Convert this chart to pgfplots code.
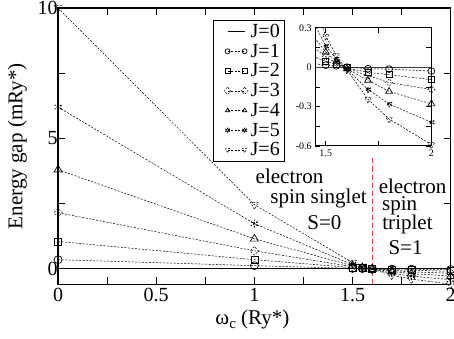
\documentclass[border=0pt]{standalone}
\usepackage{fontspec}
\setmainfont{Liberation Serif}
\usepackage{pgfplots}
\usepackage{pgfplotstable}
\pgfplotsset{compat=1.18}
\pgfplotstableread{
x J1 J2 J3 J4 J5 J6
0 0.35 1.05 2.15 3.8 6.2 10
1 0.12 0.35 0.69 1.15 1.73 2.46
1.5 0.015 0.045 0.08 0.115 0.16 0.235
1.55 0.01 0.02 0.03 0.044 0.063 0.089
1.6 0.0 -0.005 -0.01 -0.013 -0.017 -0.022
1.7 -0.012 -0.04 -0.065 -0.1 -0.17 -0.245
1.8 -0.015 -0.058 -0.118 -0.185 -0.28 -0.395
2 -0.03 -0.095 -0.17 -0.28 -0.42 -0.59
}\gaps
\definecolor{vred}{rgb}{0.95,0.25,0.3}
\pgfplotsset{
  jline/.style={black, line width=0.5pt, dash pattern=on 2pt off 1.5pt,
    mark options={solid, fill=white, line width=0.7pt}},
  sJ1/.style={jline, mark=o, mark size=#1*4pt},
  sJ2/.style={jline, mark=square, mark size=#1*3.5pt},
  sJ3/.style={jline, mark=square, mark size=#1*3pt, mark options={rotate=45}},
  sJ4/.style={jline, mark=triangle, mark size=#1*4.6pt},
  sJ5/.style={jline, mark=asterisk, mark size=#1*4pt, mark options={line width=1.1pt}},
  sJ6/.style={jline, mark=triangle, mark size=#1*4.6pt, mark options={rotate=180}},
}
\newcommand{\fs}[1]{\fontsize{#1}{#1}\selectfont}
\begin{document}
\begin{tikzpicture}
\begin{axis}[name=main, scale only axis, width=392pt, height=276pt,
  xmin=0, xmax=2, ymin=-0.6, ymax=10,
  axis line style={line width=1.2pt},
  tick align=inside, tick style={line width=0.8pt, black},
  major tick length=7pt, minor tick length=7pt,
  xtick={0,0.5,1,1.5,2}, xticklabels={0,0.5,1,1.5,2},
  minor xtick={0.25,0.75,1.25,1.75},
  ytick={0,5,10}, yticklabels={0,5,10}, minor ytick={2.5,7.5},
  tick label style={font=\fs{20}},
  yticklabel style={xshift=3pt},
  every axis y label/.style={at={(axis description cs:-0.104,0.5)}, rotate=90, anchor=center},
  every axis x label/.style={at={(axis description cs:0.495,-0.145)}, anchor=base},
  ylabel={\fs{21}Energy gap (mRy*)},
  xlabel={\fs{21}ω\raisebox{-0.45ex}{\fs{15}c} (Ry*)},
  legend cell align=left,
  legend style={at={(rel axis cs:0.395,0.957)}, anchor=north west, draw=black,
    line width=1pt, font=\fs{20}, row sep=2.6pt, inner sep=2.5pt,
    nodes={inner xsep=2.5pt, inner ysep=1.2pt}},
  legend image code/.code={\path (-11pt,0pt) (0pt,0pt);\draw[mark repeat=1,mark phase=1,#1,mark size=2.5pt] plot coordinates {(0pt,0pt) (17pt,0pt)};},
]
\addplot[black, line width=0.8pt, no marks] coordinates {(0,0) (2,0)};
\addlegendentry{J=0}
\addplot[sJ1=1] table[x=x,y=J1] {\gaps};
\addlegendentry{J=1}
\addplot[sJ2=1] table[x=x,y=J2] {\gaps};
\addlegendentry{J=2}
\addplot[sJ3=1] table[x=x,y=J3] {\gaps};
\addlegendentry{J=3}
\addplot[sJ4=1] table[x=x,y=J4] {\gaps};
\addlegendentry{J=4}
\addplot[sJ5=1] table[x=x,y=J5] {\gaps};
\addlegendentry{J=5}
\addplot[sJ6=1] table[x=x,y=J6] {\gaps};
\addlegendentry{J=6}
\addplot[vred, line width=1.2pt, dash pattern=on 5pt off 3pt, forget plot] coordinates {(1.6,4.23) (1.6,-0.6)};
\node[font=\fs{21}] at (axis cs:1.179,3.54) {electron};
\node[font=\fs{21}] at (axis cs:1.327,2.69) {spin singlet};
\node[font=\fs{21}] at (axis cs:1.357,1.77) {S=0};
\node[font=\fs{21}] at (axis cs:1.806,3.15) {electron};
\node[font=\fs{21}] at (axis cs:1.74,2.42) {spin};
\node[font=\fs{21}] at (axis cs:1.78,1.69) {triplet};
\node[font=\fs{21}] at (axis cs:1.77,0.81) {S=1};
\end{axis}
\begin{axis}[name=inset, scale only axis, width=116pt, height=118pt,
  at={(main.north west)}, anchor=north west, xshift=256.7pt, yshift=-19.7pt,
  xmin=1.45, xmax=2, ymin=-0.6, ymax=0.3,
  axis background/.style={fill=white},
  axis line style={line width=1pt},
  tick align=inside, tick style={line width=0.6pt, black},
  major tick length=5pt, minor tick length=5pt,
  xtick={1.5,2}, xticklabels={1.5,2}, minor xtick={1.75},
  ytick={-0.6,-0.3,0,0.3}, yticklabels={-0.6,-0.3,0,0.3},
  minor ytick={-0.45,-0.15,0.15},
  tick label style={font=\fs{10}},
  clip=true,
]
\addplot[black!75, line width=1.2pt, no marks] coordinates {(1,0) (2,0)};
\addplot[sJ1=0.85] table[x=x,y=J1] {\gaps};
\addplot[sJ2=0.85] table[x=x,y=J2] {\gaps};
\addplot[sJ3=0.85] table[x=x,y=J3] {\gaps};
\addplot[sJ4=0.85] table[x=x,y=J4] {\gaps};
\addplot[sJ5=0.85] table[x=x,y=J5] {\gaps};
\addplot[sJ6=0.85] table[x=x,y=J6] {\gaps};
\end{axis}
\pgfresetboundingbox
\path ([shift={(-58pt,-54pt)}]main.south west) rectangle ([shift={(3.3pt,8pt)}]main.north east);
\end{tikzpicture}
\end{document}
